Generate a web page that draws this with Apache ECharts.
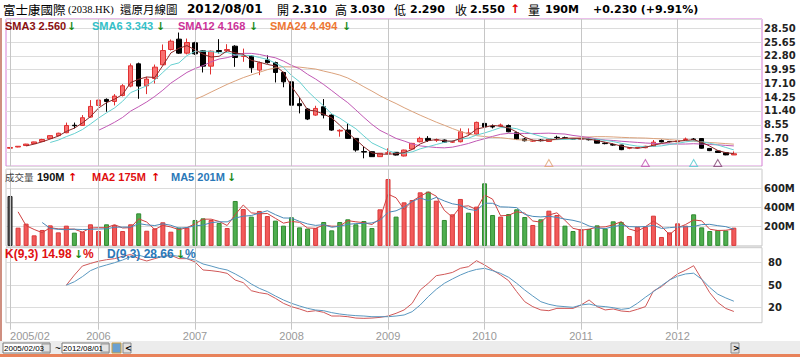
<!DOCTYPE html>
<html><head><meta charset="utf-8">
<script src="https://cdn.jsdelivr.net/npm/echarts@6/dist/echarts.min.js"></script>
<style>html,body{margin:0;padding:0;background:#fff}#c{width:800px;height:357px}</style>
</head><body><div id="c"></div>
<script>
// ---------------- data ----------------
const months = ['2005/02','2005/03','2005/04','2005/05','2005/06','2005/07','2005/08','2005/09','2005/10','2005/11','2005/12',
'2006/01','2006/02','2006/03','2006/04','2006/05','2006/06','2006/07','2006/08','2006/09','2006/10','2006/11','2006/12',
'2007/01','2007/02','2007/03','2007/04','2007/05','2007/06','2007/07','2007/08','2007/09','2007/10','2007/11','2007/12',
'2008/01','2008/02','2008/03','2008/04','2008/05','2008/06','2008/07','2008/08','2008/09','2008/10','2008/11','2008/12',
'2009/01','2009/02','2009/03','2009/04','2009/05','2009/06','2009/07','2009/08','2009/09','2009/10','2009/11','2009/12',
'2010/01','2010/02','2010/03','2010/04','2010/05','2010/06','2010/07','2010/08','2010/09','2010/10','2010/11','2010/12',
'2011/01','2011/02','2011/03','2011/04','2011/05','2011/06','2011/07','2011/08','2011/09','2011/10','2011/11','2011/12',
'2012/01','2012/02','2012/03','2012/04','2012/05','2012/06','2012/07','2012/08'];
const emptyMonths = ['2012/09','2012/10','2012/11'];

const opens = [3.70,3.95,4.25,4.65,5.10,5.70,6.30,6.90,8.45,8.42,
10.14,12.55,13.79,13.37,14.61,16.54,21.15,16.61,18.12,20.95,
24.11,26.25,23.36,25.49,23.84,20.67,23.90,23.85,24.80,22.70,
22.74,19.85,21.95,21.40,19.36,17.43,12.90,11.80,10.55,12.27,
10.55,7.25,7.45,5.73,3.00,2.98,1.95,2.64,2.85,2.09,
3.53,5.04,5.73,5.35,5.39,4.95,5.04,6.70,6.63,8.83,
8.20,8.30,8.40,6.90,5.60,5.15,5.40,5.10,5.95,5.85,
5.65,5.55,5.50,5.50,4.75,4.45,4.36,3.70,3.75,3.80,
4.10,5.30,5.10,5.00,5.50,5.60,5.70,3.65,3.12,2.77,
2.31];
const closes = [3.85,4.10,4.55,5.00,5.50,6.30,6.80,8.40,8.35,10.00,
12.34,13.65,13.37,14.48,16.61,20.74,16.54,17.99,20.46,23.90,
25.83,23.36,25.56,23.22,20.67,23.77,23.70,24.10,22.46,22.80,
20.33,21.36,21.40,19.36,17.43,12.60,12.50,9.73,11.93,10.55,
7.45,7.40,5.73,3.32,2.90,1.95,2.64,2.75,2.29,3.32,
4.70,5.73,5.30,5.45,4.95,5.05,7.11,6.85,9.04,8.14,
8.10,8.50,7.10,5.55,5.25,5.30,5.25,5.60,5.90,5.80,
5.60,5.65,5.45,4.75,4.65,4.35,3.40,3.80,3.85,4.10,
4.95,5.00,5.05,5.30,5.60,5.50,3.70,3.20,2.81,2.32,
2.55];
const lows = [3.62,3.88,4.20,4.60,5.00,5.60,6.20,6.80,7.80,8.30,
10.00,12.14,11.24,12.55,14.40,16.30,13.92,14.89,17.09,20.80,
23.90,23.20,23.10,23.00,19.36,18.95,23.29,23.60,20.53,21.57,
19.29,18.81,21.20,17.30,16.30,11.58,10.90,9.52,10.40,9.86,
7.30,6.08,5.60,2.98,1.61,1.90,1.90,2.50,2.20,2.00,
3.40,4.90,5.00,5.00,4.80,4.80,4.90,6.30,6.50,8.00,
7.80,8.10,7.00,5.40,5.10,5.00,5.10,5.00,5.60,5.60,
5.50,5.40,5.30,4.70,4.50,4.20,3.30,3.50,3.60,3.70,
4.00,4.90,4.90,4.95,5.30,5.30,3.60,3.10,2.75,2.25,
2.29];
const highs = [3.90,4.15,4.60,5.05,5.65,6.40,6.90,9.00,9.00,10.55,
13.65,14.68,14.00,14.89,16.95,21.22,21.40,18.47,21.00,25.15,
26.18,27.62,26.38,25.70,24.00,23.90,26.25,25.21,25.00,24.30,
22.90,21.60,22.90,21.60,19.50,17.60,14.20,12.00,12.48,13.86,
10.70,7.60,8.83,5.80,4.01,3.00,2.70,3.67,2.90,3.40,
4.80,6.07,6.20,5.70,5.50,5.30,7.80,7.80,9.20,11.58,
8.60,8.80,8.60,7.10,5.80,5.50,5.60,5.80,6.30,6.10,
5.80,5.80,5.70,5.60,4.90,4.70,4.40,3.90,3.95,4.20,
5.40,5.50,5.20,5.40,5.90,5.80,5.80,3.75,3.20,2.85,
3.03];
// volume in millions of shares
const volumes = [520,190,232,110,166,214,141,211,138,148,
225,155,225,218,155,225,339,158,183,246,
148,190,190,270,287,270,239,186,468,384,
305,364,311,263,211,298,193,180,186,249,
162,249,277,225,259,186,381,697,305,454,
478,558,565,471,270,329,489,346,409,652,
322,305,332,381,301,218,277,367,322,211,
155,173,176,214,183,256,249,103,200,200,
315,93,141,235,211,329,193,155,166,160,
190];
const kValues = [null,null,null,null,null,null,null,
50,63.5,75.6,79,82,84,85.4,88.5,91,85.4,
82.3,85.4,88.5,90,85.4,85.4,81,70.3,69.4,68,
65.8,56.9,53.4,42.7,40,38.3,32.5,25.8,21.4,18.3,
14.7,16,13.8,8.9,8.9,8,6.2,5.8,6.2,7.1,
8.9,12.5,17,25.8,43.6,52.5,62.7,64.5,67,72.5,
74.7,82.7,77,70.3,63.6,56,41.4,28,21.4,17,
16,19.1,19.1,19.1,23.6,30.3,21.4,17,18.3,15.6,
14.7,17.8,21.4,42.3,48,56.9,65,70,76,58,
40,27,19,14.98];
const dValues = [null,null,null,null,null,null,null,
50,54.6,61.4,69.4,73.9,77,80,83.6,88,90,
87,87,88,90,88.5,85.4,83.6,78.3,75.6,72.5,
70.3,65,59,51.6,45.8,41.4,35.6,30.3,25.8,22.3,
19.1,16.9,16,13.4,11.6,10.3,9.4,8.9,8,8,
8,8.9,10.3,14.7,23.6,34.7,44.5,52.5,58.3,63.6,
68,71,72.5,69.4,65.8,60.5,52.5,43.6,35.6,28,
24.5,22.3,21.4,20.5,23.6,24.9,22.3,21.4,20,17.8,
19.1,25.8,33.9,41.4,49.4,56.9,62,65,66,58,
47,38,33,28.66];
const yearTicks = {'2005/02':'2005/02','2006/01':'2006','2007/01':'2007','2008/01':'2008',
  '2009/01':'2009','2010/01':'2010','2011/01':'2011','2012/01':'2012'};
const markerMonths = ['2010/09','2011/09','2012/03','2012/06'];
const markerColors = ['#e0a070','#c050b0','#50c8d0','#804070'];

// ---------------- helpers ----------------
function movingAvg(arr, n){
  return arr.map((v,i)=>{
    if(i < n-1) return '-';
    let s=0; for(let j=i-n+1;j<=i;j++) s+=arr[j];
    return +(s/n).toFixed(4);
  });
}
const cats = months.concat(emptyMonths);
const candleData = months.map((m,i)=>[opens[i],closes[i],lows[i],highs[i]]);
const volData = volumes.map((v,i)=>{
  let c, b;
  if(i===0){c='#555555';b='#222222';}
  else if(closes[i] >= closes[i-1]){c='#f25a5a';b='#d83a3a';}
  else {c='#4fae4f';b='#2f8a2f';}
  return {value:v, itemStyle:{color:c, borderColor:b}};
});
const yearSet = Object.keys(yearTicks);
const yearLines = yearSet.map(m=>({xAxis:m}));
function gridLineSeries(xi, yi){
  return {type:'line', xAxisIndex:xi, yAxisIndex:yi, data:[], z:1, silent:true,
    markLine:{silent:true, symbol:['none','none'], label:{show:false}, animation:false,
      lineStyle:{color:'#c6c6c6', type:'solid', width:1}, data:yearLines}};
}
const gridSplit = {show:true, lineStyle:{color:'#dcdcdc', width:1}};
const lblFont = {fontFamily:'DejaVu Sans', fontWeight:'bold', fontSize:10, color:'#222'};

// ---------------- texts ----------------
const G = [];
function T(x,y,text,fill,font){
  G.push({type:'text', x:x, y:y, silent:true, z:100,
    style:{text:text, fill:fill, font:font, textVerticalAlign:'middle', textAlign:'left'}});
}
const cjk = '"Noto Sans CJK TC"';
const numB = 'bold 11px "DejaVu Sans"';
const legB = 'bold 11px "Liberation Sans"';
const kdB = 'bold 12px "Liberation Sans"';
const arr = 'bold 11px "DejaVu Sans"';
// background frame pieces
G.push({type:'rect', shape:{x:0,y:341,width:800,height:13}, style:{fill:'#ececec'}, silent:true, z:0});
G.push({type:'rect', shape:{x:0,y:354,width:800,height:3}, style:{fill:'#e8825a'}, silent:true, z:0});
G.push({type:'rect', shape:{x:0,y:18,width:2,height:323}, style:{fill:'#cf8f80'}, silent:true, z:0});
// header
T(3,9,'富士康國際', '#000', '12.5px '+cjk);
T(68,9.5,'(2038.HK)', '#000', '10.5px "Liberation Serif"');
T(120,9,'還原月線圖', '#000', '11.5px '+cjk);
T(187,9,'2012/08/01', '#000', 'bold 12px "DejaVu Sans"');
T(277,9,'開', '#000', '12px '+cjk);
T(292,9,'2.310', '#000', numB);
T(335,9,'高', '#000', '12px '+cjk);
T(350,9,'3.030', '#000', numB);
T(394,9,'低', '#000', '12px '+cjk);
T(410,9,'2.290', '#000', numB);
T(455,9,'收', '#000', '12px '+cjk);
T(470,9,'2.550', '#000', numB);
T(510,9,'↑', '#e00000', 'bold 12px "DejaVu Sans"');
T(528,9,'量', '#000', '12px '+cjk);
T(545,9,'190M', '#000', numB);
T(593,9,'+0.230 (+9.91%)', '#000', numB);
// SMA legend
T(5,26,'SMA3 2.560', '#8b1010', legB);  T(67,26,'↓', '#1a8a1a', arr);
T(92,26,'SMA6 3.343', '#33c0c8', legB); T(156,26,'↓', '#1a8a1a', arr);
T(178,26,'SMA12 4.168', '#cc3399', legB); T(249,26,'↓', '#1a8a1a', arr);
T(270,26,'SMA24 4.494', '#ee7733', legB); T(342,26,'↓', '#1a8a1a', arr);
// volume legend
T(5,177,'成交量', '#444', '9.5px '+cjk);
T(37,177,'190M', '#111', legB); T(68,177,'↑', '#e00000', arr);
T(92,177,'MA2 175M', '#e01010', legB); T(151,177,'↑', '#e00000', arr);
T(171,177,'MA5 201M', '#2a78b8', legB); T(227,177,'↓', '#1a8a1a', arr);
// KD legend
T(5,254,'K(9,3) 14.98', '#e01010', kdB); T(74,254,'↓', '#1a8a1a', arr); T(83,254,'%', '#e01010', kdB);
T(107,254,'D(9,3) 28.66', '#2a78b8', kdB); T(176,254,'↓', '#1a8a1a', arr); T(185,254,'%', '#2a78b8', kdB);
// bottom controls
G.push({type:'rect', shape:{x:3,y:343,width:47,height:10}, style:{fill:'#fff', stroke:'#777', lineWidth:1}, silent:true, z:50});
T(4,348,'2005/02/03', '#000', '8px "Liberation Sans"');
G.push({type:'rect', shape:{x:42,y:344,width:8,height:8}, style:{fill:'#e4e4e4', stroke:'#999', lineWidth:1}, silent:true, z:51});
T(55,348,'~', '#000', '10px "Liberation Sans"');
G.push({type:'rect', shape:{x:62,y:343,width:47,height:10}, style:{fill:'#fff', stroke:'#777', lineWidth:1}, silent:true, z:50});
T(63,348,'2012/08/01', '#000', '8px "Liberation Sans"');
G.push({type:'rect', shape:{x:101,y:344,width:8,height:8}, style:{fill:'#e4e4e4', stroke:'#999', lineWidth:1}, silent:true, z:51});
G.push({type:'rect', shape:{x:112,y:343,width:9,height:10}, style:{fill:'#6aa0d0', stroke:'#d0a040', lineWidth:1}, silent:true, z:50});
G.push({type:'rect', shape:{x:123,y:343,width:8,height:10}, style:{fill:'#e0e0e0', stroke:'#888', lineWidth:1}, silent:true, z:50});
T(125,348,'<', '#000', 'bold 8px "DejaVu Sans"');
G.push({type:'rect', shape:{x:731,y:343,width:8,height:10}, style:{fill:'#e0e0e0', stroke:'#888', lineWidth:1}, silent:true, z:50});
T(733,348,'>', '#000', 'bold 8px "DejaVu Sans"');

// ---------------- chart ----------------
const chart = echarts.init(document.getElementById('c'), null, {renderer:'svg'});
const xBase = {type:'category', data:cats, boundaryGap:true,
  axisLine:{show:false}, axisTick:{show:false}, axisLabel:{show:false}, splitLine:{show:false}};
const option = {
  animation:false,
  backgroundColor:'#ffffff',
  grid:[
    {left:6, right:38, top:19, height:147.1, show:true, borderColor:'#d67fd6', borderWidth:1, backgroundColor:'transparent'},
    {left:6, right:38, top:169.1, height:76.8, show:true, borderColor:'#c8c8c8', borderWidth:1},
    {left:6, right:38, top:247.7, height:75, show:true, borderColor:'#c8c8c8', borderWidth:1}
  ],
  xAxis:[
    Object.assign({gridIndex:0}, xBase),
    Object.assign({gridIndex:1}, xBase),
    Object.assign({}, xBase, {gridIndex:2,
      axisTick:{show:true, alignWithLabel:true, length:7, interval:(i,v)=>v in yearTicks, lineStyle:{color:'#c6c6c6'}},
      axisLabel:{show:true, interval:(i,v)=>v in yearTicks, formatter:v=>yearTicks[v]||'',
        fontFamily:'Liberation Sans', fontSize:11, color:'#999', margin:8, alignMinLabel:'left'}})
  ],
  yAxis:[
    {gridIndex:0, type:'value', position:'right', min:0, max:30.42, interval:2.85,
      axisLine:{show:false}, axisTick:{show:false}, splitLine:gridSplit,
      axisLabel:Object.assign({margin:2, showMinLabel:false, showMaxLabel:false,
        formatter:v=>(v>0.1 && v<30)?v.toFixed(2):''}, lblFont)},
    {gridIndex:1, type:'value', position:'right', min:0, max:800, interval:200,
      axisLine:{show:false}, axisTick:{show:false}, splitLine:gridSplit,
      axisLabel:Object.assign({margin:2, formatter:v=>(v>0 && v<800)?v+'M':''}, lblFont)},
    {gridIndex:2, type:'value', position:'right', min:0, max:100, interval:10,
      axisLine:{show:false}, axisTick:{show:false},
      splitLine:{show:true, lineStyle:{width:1, color:['rgba(0,0,0,0)','rgba(0,0,0,0)','#dcdcdc','rgba(0,0,0,0)','rgba(0,0,0,0)','#dcdcdc','rgba(0,0,0,0)','rgba(0,0,0,0)','#dcdcdc','rgba(0,0,0,0)','rgba(0,0,0,0)']}},
      axisLabel:Object.assign({margin:6, formatter:v=>(v===20||v===50||v===80)?String(v):''}, lblFont)}
  ],
  series:[
    gridLineSeries(0,0), gridLineSeries(1,1), gridLineSeries(2,2),
    {type:'candlestick', xAxisIndex:0, yAxisIndex:0, data:candleData, barWidth:5, z:3,
      itemStyle:{color:'#f87070', color0:'#000000', borderColor:'#e03030', borderColor0:'#000000', borderWidth:1}},
    {type:'line', xAxisIndex:0, yAxisIndex:0, data:movingAvg(closes,24), symbol:'none', z:4, lineStyle:{color:'#dba27c', width:1}},
    {type:'line', xAxisIndex:0, yAxisIndex:0, data:movingAvg(closes,12), symbol:'none', z:4, lineStyle:{color:'#c058b4', width:1}},
    {type:'line', xAxisIndex:0, yAxisIndex:0, data:movingAvg(closes,6), symbol:'none', z:4, lineStyle:{color:'#66d0d0', width:1}},
    {type:'line', xAxisIndex:0, yAxisIndex:0, data:movingAvg(closes,3), symbol:'none', z:4, lineStyle:{color:'#8a2a2a', width:1}},
    {type:'scatter', xAxisIndex:0, yAxisIndex:0, symbol:'triangle', symbolSize:[8,7], z:5,
      data:markerMonths.map((m,i)=>({value:[m,0.65], itemStyle:{color:'rgba(0,0,0,0)', borderColor:markerColors[i], borderWidth:1}}))},
    {type:'bar', xAxisIndex:1, yAxisIndex:1, data:volData, barWidth:5, z:3, itemStyle:{borderWidth:1}},
    {type:'line', xAxisIndex:1, yAxisIndex:1, data:movingAvg(volumes,2), symbol:'none', z:4, lineStyle:{color:'#d04040', width:1}},
    {type:'line', xAxisIndex:1, yAxisIndex:1, data:movingAvg(volumes,5), symbol:'none', z:4, lineStyle:{color:'#4a8ab8', width:1}},
    {type:'line', xAxisIndex:2, yAxisIndex:2, data:kValues, symbol:'none', z:4, lineStyle:{color:'#d05858', width:1}},
    {type:'line', xAxisIndex:2, yAxisIndex:2, data:dValues, symbol:'none', z:4, lineStyle:{color:'#5a98c0', width:1}}
  ],
  graphic:G
};
chart.setOption(option);
</script></body></html>
